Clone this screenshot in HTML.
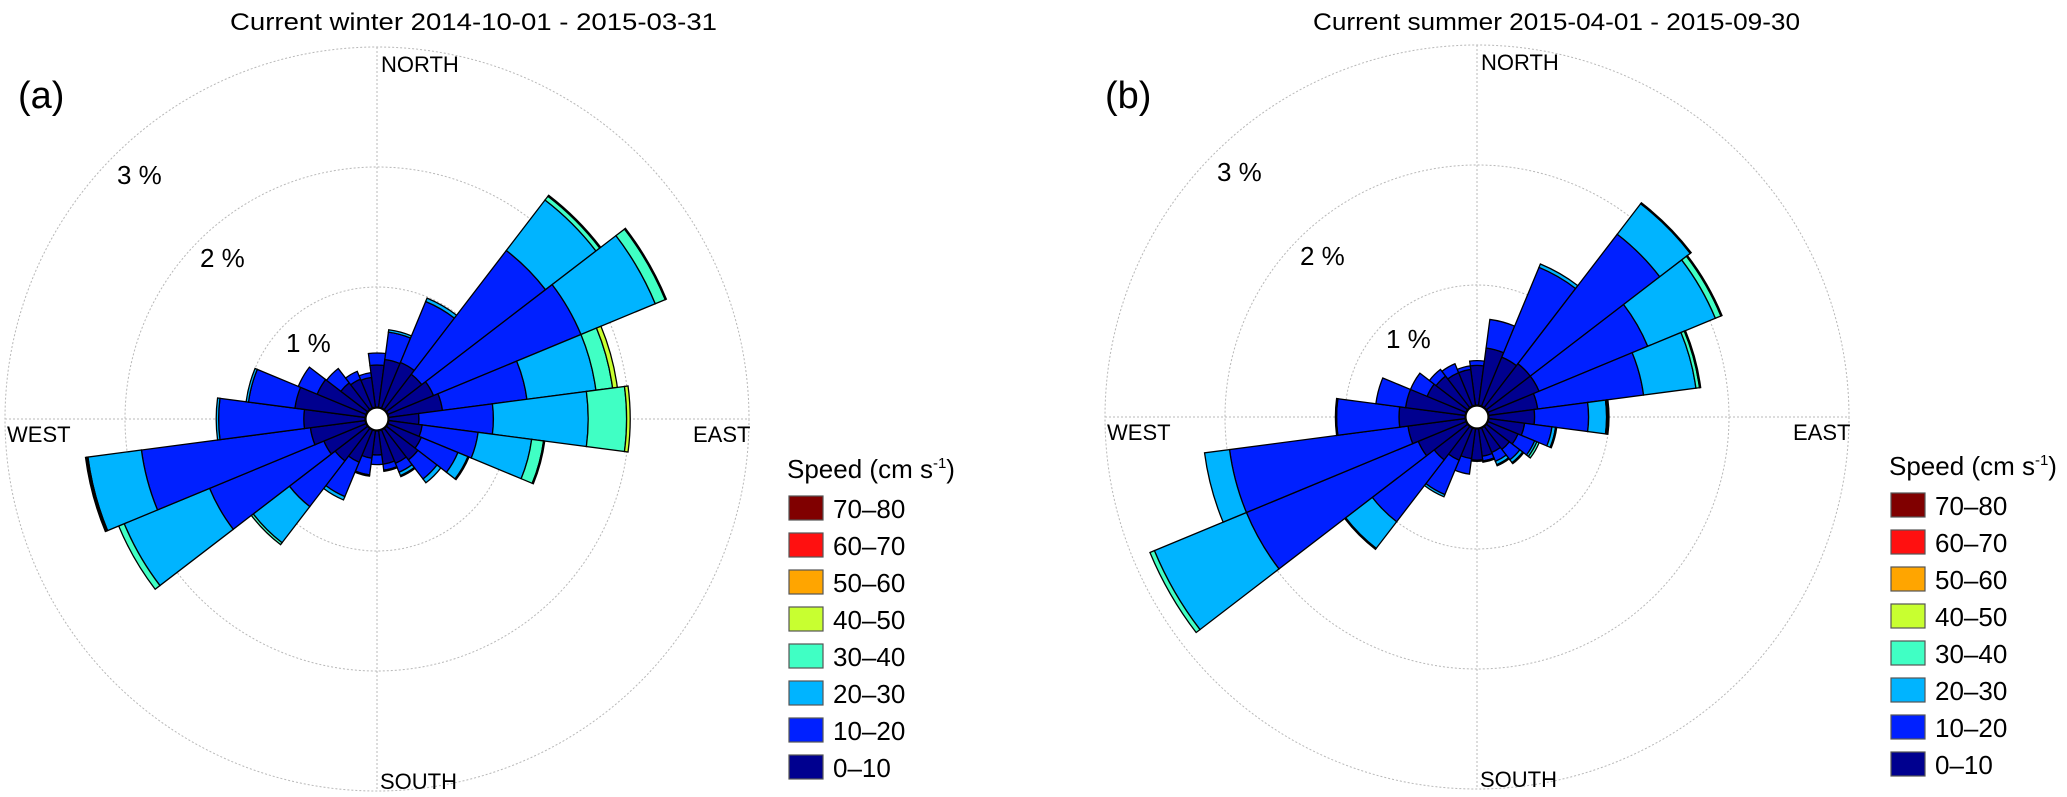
<!DOCTYPE html>
<html><head><meta charset="utf-8"><style>
html,body{margin:0;padding:0;background:#fff;}
svg{display:block;font-family:"Liberation Sans",Arial,sans-serif;}
</style></head><body>
<svg id="chart" width="2067" height="797" viewBox="0 0 2067 797" xmlns="http://www.w3.org/2000/svg">
<g id="panelA"></g>
<g id="panelB"></g>
</svg>
<script>
// Direction bins (bearing, degrees), 15-degree sectors
const directions = [0,15,30,45,60,75,90,105,120,135,150,165,180,195,210,225,240,255,270,285,300,315,330,345];
const speedClasses = ["0–10","10–20","20–30","30–40","40–50","50–60","60–70","70–80"];
const classColors = ["#00008f","#0020ff","#00b4ff","#40ffc4","#c8ff30","#ffa500","#ff1010","#800000"];
const ringTicks = [1,2,3];
const ringLabels = ["1 %","2 %","3 %"];

// Panel (a) winter: percentage per speed class per direction
const winter0to10  = [.35,.40,.41,.37,.41,.45,.25,.28,.30,.33,.30,.28,.20,.23,.29,.34,.38,.46,.51,.59,.44,.28,.26,.25];
const winter10to20 = [.10,.23,.55,1.30,1.33,.71,.62,.47,.33,.20,.08,.05,.08,.14,.31,.48,1.03,1.42,.71,.39,.17,.15,.07,.04];
const winter20to30 = [0,.02,.03,.53,.67,.58,.79,.45,.09,.04,.03,.01,0,.01,.03,.38,.77,.45,.02,.02,0,0,0,0];
const winter30to40 = [0,0,0,.04,.09,.14,.32,.10,.01,0,.01,0,0,0,0,.02,.05,.01,0,0,0,0,0,0];
const winter40to50 = [0,0,0,.01,.01,.04,.03,.01,0,0,0,0,0,0,0,0,0,.01,0,0,0,0,0,0];
const winter50to60 = [0,0,0,0,0,0,0,0,0,0,0,0,0,0,0,0,0,0,0,0,0,0,0,0];
const winter60to70 = [0,0,0,0,0,0,0,0,0,0,0,0,0,0,0,0,0,0,0,0,0,0,0,0];
const winter70to80 = [0,0,0,0,0,0,0,0,0,0,0,0,0,0,0,0,0,0,0,0,0,0,0,0];

// Panel (b) summer
const summer0to10  = [.33,.48,.44,.46,.46,.41,.38,.30,.27,.24,.22,.23,.26,.25,.29,.35,.43,.48,.55,.50,.35,.33,.30,.30];
const summer10to20 = [.04,.24,.81,1.36,.98,.89,.45,.23,.15,.11,.08,.04,.01,.13,.31,.65,1.55,1.50,.52,.25,.15,.07,.08,.03];
const summer20to30 = [0,0,.03,.32,.61,.44,.15,.03,.02,.03,.03,.01,0,0,.02,.28,.83,.21,.01,0,0,0,0,0];
const summer30to40 = [0,0,0,.01,.05,.03,.01,.01,.02,.01,.01,0,0,0,0,.01,.04,0,0,0,0,0,0,0];
const summer40to50 = [0,0,0,0,.01,.01,.01,0,0,0,0,0,0,0,0,0,0,0,0,0,0,0,0,0];
const summer50to60 = [0,0,0,0,0,0,0,0,0,0,0,0,0,0,0,0,0,0,0,0,0,0,0,0];
const summer60to70 = [0,0,0,0,0,0,0,0,0,0,0,0,0,0,0,0,0,0,0,0,0,0,0,0];
const summer70to80 = [0,0,0,0,0,0,0,0,0,0,0,0,0,0,0,0,0,0,0,0,0,0,0,0];

const NS = "http://www.w3.org/2000/svg";
function mk(tag, attrs, parent){const e=document.createElementNS(NS,tag);for(const k in attrs)e.setAttribute(k,attrs[k]);parent.appendChild(e);return e;}

function drawPanel(g, cfg){
  const cx=cfg.cx, cy=cfg.cy, r0=12, k=120;
  const rScale = v => r0 + k*v;
  const pt = (r,deg)=>{const a=deg*Math.PI/180;return [cx+r*Math.sin(a), cy-r*Math.cos(a)];};
  const rOuter = rScale(ringTicks[ringTicks.length-1]);
  const grid = mk("g",{},g);
  
  
  ringTicks.forEach(t=>{
    const c=mk("circle",{cx:cx,cy:cy,r:rScale(t),fill:"none",stroke:"#b8b8b8","stroke-width":1,"stroke-dasharray":"2,2"},grid);
    
    
  });
  const vl=mk("line",{x1:cx,y1:cy-rOuter,x2:cx,y2:cy+rOuter,stroke:"#b8b8b8","stroke-width":1,"stroke-dasharray":"2,2"},grid);
  
  
  const hl=mk("line",{x1:cx-rOuter,y1:cy,x2:cx+rOuter,y2:cy,stroke:"#b8b8b8","stroke-width":1,"stroke-dasharray":"2,2"},grid);
  
  
  const wg = mk("g",{},g);
  
  
  directions.forEach((d,i)=>{
    let cum=0;
    cfg.series.forEach((arr,c)=>{
      const v=arr[i]; if(!(v>0)) return;
      const ri=rScale(cum), ro=rScale(cum+v); cum+=v;
      const a1=d-7.5,a2=d+7.5;
      const p1=pt(ri,a1),p2=pt(ro,a1),p3=pt(ro,a2),p4=pt(ri,a2);
      const path=`M${p1[0]},${p1[1]} L${p2[0]},${p2[1]} A${ro},${ro} 0 0 1 ${p3[0]},${p3[1]} L${p4[0]},${p4[1]} A${ri},${ri} 0 0 0 ${p1[0]},${p1[1]} Z`;
      const w=mk("path",{d:path,fill:classColors[c],stroke:"#000","stroke-width":1.3,"stroke-linejoin":"miter"},wg);
      
      
    });
  });
  const hole=mk("circle",{cx:cx,cy:cy,r:r0-1,fill:"#fff",stroke:"#000","stroke-width":1.2},g);
  
  
  ringTicks.forEach((t,i)=>{
    const tx=mk("text",{x:cfg.lblX[i],y:cfg.lblY[i],"font-size":26,fill:"#000"},g);
    tx.textContent=ringLabels[i];
    
    
  });
  const comp=[["NORTH",cx+4,cy-347],["SOUTH",cx+3,cy+370],["WEST",cx-370,cy+23],["EAST",cx+316,cy+23]];
  comp.forEach(c=>{
    const tx=mk("text",{x:c[1],y:c[2],"font-size":22,fill:"#000"},g);
    tx.textContent=c[0];
    
    
  });
  const tt=mk("text",{x:cfg.titleX,y:30,"font-size":24,fill:"#000",textLength:487,lengthAdjust:"spacingAndGlyphs"},g);
  tt.textContent=cfg.title;
  
  
  const pl=mk("text",{x:cfg.letterX,y:108,"font-size":38,fill:"#000"},g);
  pl.textContent=cfg.letter;
  
  
  const lg=mk("g",{},g);
  
  
  const lt=mk("text",{x:cfg.legX-2,y:cfg.legY-18,"font-size":26,fill:"#000"},lg);
  lt.innerHTML='Speed (cm s<tspan dy="-10" font-size="15">-1</tspan><tspan dy="10">)</tspan>';
  
  
  for(let j=0;j<8;j++){
    const c=7-j;
    const y=cfg.legY+j*37;
    const b=mk("rect",{x:cfg.legX,y:y,width:34,height:24,fill:classColors[c],stroke:"#555","stroke-width":1.2},lg);
    
    
    const t=mk("text",{x:cfg.legX+44,y:y+22,"font-size":26,fill:"#000"},lg);
    t.textContent=speedClasses[c];
    
    
  }
}

drawPanel(document.getElementById("panelA"),{cx:377,cy:419,
  series:[winter0to10,winter10to20,winter20to30,winter30to40,winter40to50,winter50to60,winter60to70,winter70to80],
  lblX:[286,200,117],lblY:[352,267,184],title:"Current winter 2014-10-01 - 2015-03-31",titleX:230,letter:"(a)",letterX:18,legX:789,legY:496});
drawPanel(document.getElementById("panelB"),{cx:1477,cy:417,
  series:[summer0to10,summer10to20,summer20to30,summer30to40,summer40to50,summer50to60,summer60to70,summer70to80],
  lblX:[1386,1300,1217],lblY:[348,265,181],title:"Current summer 2015-04-01 - 2015-09-30",titleX:1313,letter:"(b)",letterX:1105,legX:1891,legY:493});
</script>
</body></html>
